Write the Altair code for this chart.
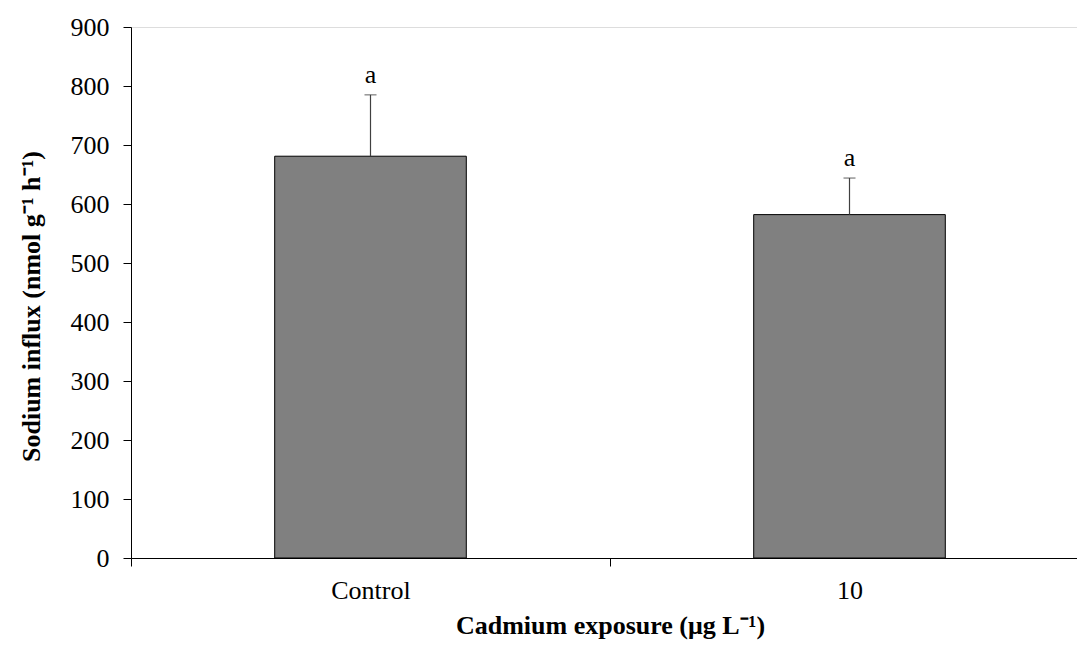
import altair as alt
import pandas as pd

categories = ["Control", "10"]
means = [681, 582]
upper = [785, 644]
letters = ["a", "a"]

df = pd.DataFrame({"group": categories, "mean": means, "upper": upper, "letter": letters})

FONT = "Liberation Serif"
PLOT_W = 946
RANGE_W = 958
PLOT_H = 531

x = alt.X(
    "group:N",
    sort=categories,
    scale=alt.Scale(range=[0, RANGE_W], paddingInner=0, paddingOuter=0),
    axis=alt.Axis(
        title="Cadmium exposure (μg L⁻¹)",
        labelAngle=0,
        tickBand="extent",
        tickSize=8,
        tickColor="black",
        domainColor="black",
        labelFont=FONT,
        labelFontSize=26,
        labelColor="black",
        labelBaseline="alphabetic",
        labelPadding=32,
        titleFont=FONT,
        titleFontSize=26,
        titleFontWeight="bold",
        titleColor="black",
        titleBaseline="alphabetic",
        titleY=75,
    ),
)

y_axis = alt.Axis(
    title="Sodium influx (nmol g⁻¹ h⁻¹)",
    values=list(range(0, 1000, 100)),
    grid=False,
    tickSize=8,
    tickColor="black",
    domainColor="black",
    labelFont=FONT,
    labelFontSize=26,
    labelColor="black",
    labelPadding=14,
    titleFont=FONT,
    titleFontSize=26,
    titleFontWeight="bold",
    titleColor="black",
    titleX=-100,
    titleY=279,
    titleBaseline="middle",
)

y_scale = alt.Scale(domain=[0, 900], nice=False)

base = alt.Chart(df)

bars = base.mark_bar(
    width=alt.RelativeBandSize(0.4), color="#808080", stroke="black", strokeWidth=1
).encode(x=x, y=alt.Y("mean:Q", scale=y_scale, axis=y_axis))

err = base.mark_rule(color="#404040", strokeWidth=1.2).encode(
    x=alt.X("group:N", sort=categories), y="mean:Q", y2="upper:Q"
)

caps = base.mark_tick(color="#404040", size=12, thickness=1.2, orient="horizontal").encode(
    x=alt.X("group:N", sort=categories), y="upper:Q"
)

labels = base.mark_text(
    font=FONT, fontSize=26, color="black", baseline="alphabetic", dy=-12
).encode(x=alt.X("group:N", sort=categories), y="upper:Q", text="letter:N")

chart = (
    alt.layer(bars, err, caps, labels)
    .properties(
        width=PLOT_W,
        height=PLOT_H,
        autosize=alt.AutoSizeParams(type="none"),
        padding={"left": 131, "top": 27, "right": 0, "bottom": 90},
    )
    .configure_view(stroke=None)
    .configure(background="white")
)

chart.save("out.html", embed_options={"renderer": "svg", "actions": False})
